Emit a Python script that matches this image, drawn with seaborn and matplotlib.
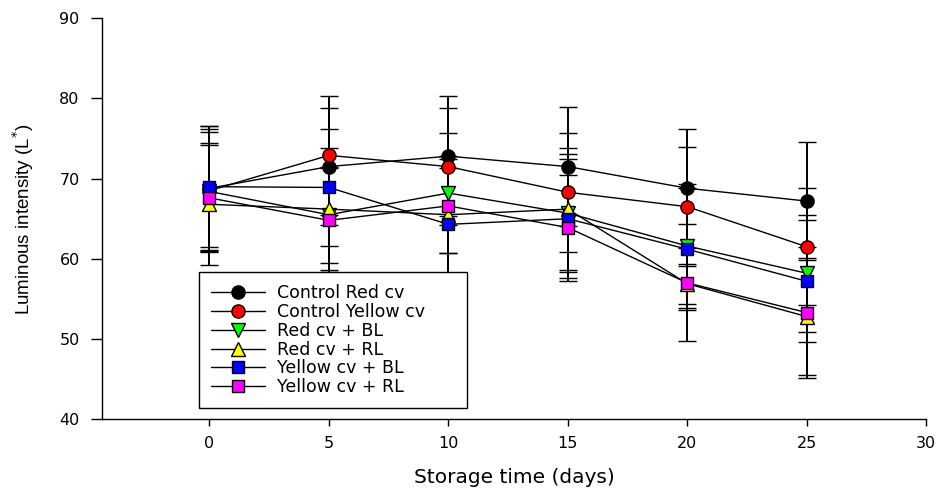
import matplotlib
matplotlib.use("Agg")
import matplotlib.pyplot as plt
from matplotlib import font_manager
from matplotlib.lines import Line2D
import seaborn as sns
import pandas as pd

days = [0, 5, 10, 15, 20, 25]
series_names = ["Control Red cv", "Control Yellow cv", "Red cv + BL",
                "Red cv + RL", "Yellow cv + BL", "Yellow cv + RL"]

control_red = [68.8, 71.5, 72.8, 71.5, 68.8, 67.2]
control_yellow = [68.5, 72.9, 71.5, 68.3, 66.5, 61.5]
red_bl = [68.4, 65.5, 68.2, 65.7, 61.6, 58.2]
red_rl = [66.8, 66.2, 65.5, 66.2, 56.9, 52.8]
yellow_bl = [69.0, 68.9, 64.3, 65.0, 61.2, 57.2]
yellow_rl = [67.6, 64.8, 66.6, 63.9, 57.0, 53.3]

sd_control_red = [7.7, 7.3, 7.5, 7.4, 7.4, 7.4]
sd_control_yellow = [7.7, 7.4, 7.3, 7.4, 7.4, 7.3]
sd_red_bl = [7.4, 6.0, 7.5, 7.4, 7.7, 7.3]
sd_red_rl = [7.6, 7.6, 7.3, 7.6, 2.5, 7.3]
sd_yellow_bl = [7.5, 7.3, 7.0, 7.4, 7.6, 7.6]
sd_yellow_rl = [6.6, 6.5, 5.9, 6.6, 7.3, 8.2]

values = [control_red, control_yellow, red_bl, red_rl, yellow_bl, yellow_rl]
sds = [sd_control_red, sd_control_yellow, sd_red_bl, sd_red_rl, sd_yellow_bl, sd_yellow_rl]

colors = ["#000000", "#ff0000", "#00ff00", "#ffff00", "#0000ff", "#ff00ff"]
markers = ["o", "o", "v", "^", "s", "s"]
msizes = [9.5, 9.5, 10, 10, 8.5, 8.5]

sns.set_theme(style="ticks")
plt.rcParams['font.family'] = ['DejaVu Sans']
plt.rcParams['text.color'] = 'black'
plt.rcParams['axes.labelcolor'] = 'black'
plt.rcParams['xtick.color'] = 'black'
plt.rcParams['ytick.color'] = 'black'

try:
    font_manager.findfont(font_manager.FontProperties(family='Liberation Sans Narrow'),
                          fallback_to_default=False)
    ylab_family = ['Liberation Sans Narrow', 'DejaVu Sans']
    ylab_size = 15
except Exception:
    ylab_family = ['Liberation Sans', 'DejaVu Sans']
    ylab_size = 13.5

fig = plt.figure(figsize=(9.39, 4.91), dpi=100)
ax = fig.add_axes([0.1085, 0.146, 0.878, 0.817])

rows = []
for name, vals in zip(series_names, values):
    for d, v in zip(days, vals):
        rows.append({"day": d, "L": v, "series": name})
df = pd.DataFrame(rows)

for vals, sd in zip(values, sds):
    ax.errorbar(days, vals, yerr=sd, fmt="none", ecolor="black",
                elinewidth=1.4, capsize=6.5, capthick=1.0, zorder=2)

for i, name in enumerate(series_names):
    sub = df[df["series"] == name]
    sns.lineplot(data=sub, x="day", y="L", ax=ax, color="black", linewidth=1.0,
                 marker=markers[i], markersize=msizes[i],
                 markerfacecolor=colors[i], markeredgecolor="black",
                 markeredgewidth=1.0, zorder=3 + i, legend=False)

handles = []
for i, name in enumerate(series_names):
    handles.append(Line2D([0], [0], color="black", linewidth=1.0, marker=markers[i],
                          markersize=msizes[i], markerfacecolor=colors[i],
                          markeredgecolor="black", markeredgewidth=1.0, label=name))

leg = ax.legend(handles=handles, loc="lower left",
                bbox_to_anchor=(0.118, 0.027, 0.325, 0.34), mode="expand",
                frameon=True, fancybox=False, framealpha=1, edgecolor="black",
                fontsize=12.5, handlelength=3.1, handletextpad=0.7,
                labelspacing=0.05, borderpad=0.7, borderaxespad=0)
leg.get_frame().set_linewidth(1.0)
leg.set_zorder(20)

ax.set_xlim(-4.5, 30)
ax.set_ylim(40, 90)
ax.set_xticks([0, 5, 10, 15, 20, 25, 30])
ax.set_yticks([40, 50, 60, 70, 80, 90])
ax.tick_params(axis="both", direction="out", width=1.0, labelsize=11.5, colors="black")
ax.tick_params(axis="x", length=5, pad=7)
ax.tick_params(axis="y", length=8, pad=8)

for s in ["top", "right"]:
    ax.spines[s].set_visible(False)
for s in ["left", "bottom"]:
    ax.spines[s].set_linewidth(1.0)
    ax.spines[s].set_color("black")

ax.set_xlabel("Storage time (days)", fontsize=14.5, labelpad=12)
ax.set_ylabel("Luminous intensity (L$^{*}$)", fontsize=ylab_size,
              family=ylab_family, labelpad=17)

fig.savefig("out.png", dpi=100)
